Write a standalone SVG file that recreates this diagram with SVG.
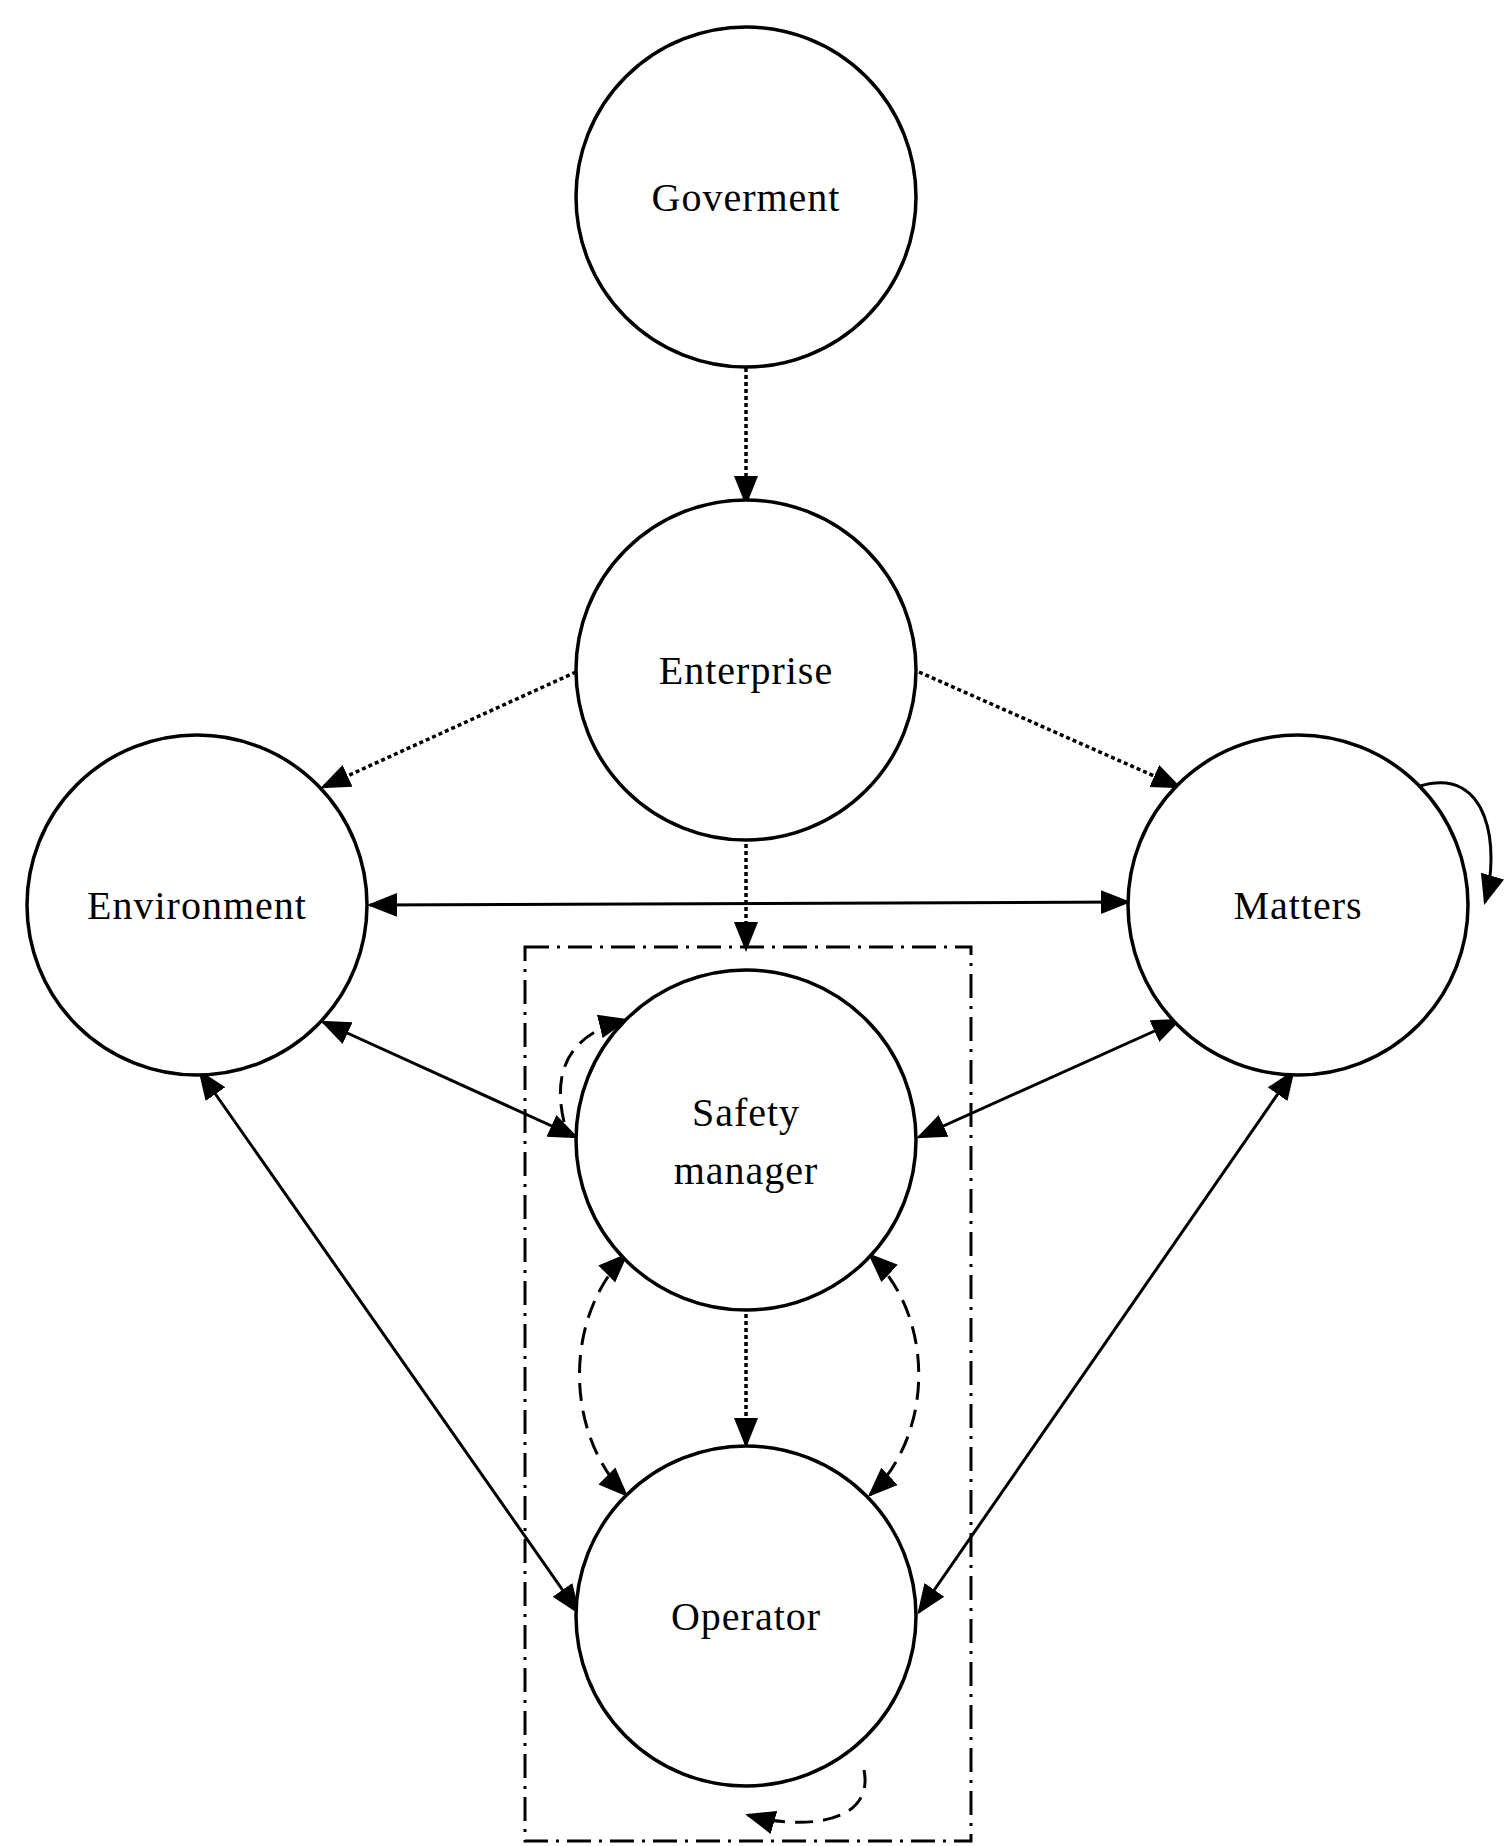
<svg xmlns="http://www.w3.org/2000/svg" width="1510" height="1846" viewBox="0 0 1510 1846">
<style>
.n{fill:#fff;stroke:#000;stroke-width:3.5}
.t{font-family:"Liberation Serif",serif;font-size:40px;text-anchor:middle;fill:#000;letter-spacing:1px}
.s{fill:none;stroke:#000;stroke-width:3}
.d{stroke-dasharray:4 3;stroke-width:3.5}
.ds{stroke-dasharray:18 10}
</style>
<defs>
<marker id="b" viewBox="0 0 10 10" refX="9" refY="5" markerWidth="30" markerHeight="30" markerUnits="userSpaceOnUse" orient="auto-start-reverse"><path d="M0,1 L10,5 L0,9 z" fill="#000"/></marker>
</defs>
<rect width="1510" height="1846" fill="#fff"/>
<rect x="525" y="947" width="446" height="894" fill="none" stroke="#000" stroke-width="3" stroke-dasharray="24 8 3 8"/>
<g id="connectors">
<line class="s d" x1="746" y1="368" x2="746" y2="503" marker-end="url(#b)"/>
<line class="s d" x1="576" y1="672" x2="323" y2="787" marker-end="url(#b)"/>
<line class="s d" x1="919" y1="672" x2="1179" y2="787" marker-end="url(#b)"/>
<line class="s d" x1="746" y1="837" x2="746" y2="949" marker-end="url(#b)"/>
<line class="s d" x1="746" y1="1307" x2="746" y2="1445" marker-end="url(#b)"/>
<line class="s" x1="370" y1="905" x2="1128" y2="902" marker-start="url(#b)" marker-end="url(#b)"/>
<line class="s" x1="323" y1="1022" x2="576" y2="1137" marker-start="url(#b)" marker-end="url(#b)"/>
<line class="s" x1="1179" y1="1020" x2="919" y2="1137" marker-start="url(#b)" marker-end="url(#b)"/>
<line class="s" x1="200" y1="1072" x2="578" y2="1612" marker-start="url(#b)" marker-end="url(#b)"/>
<line class="s" x1="1293" y1="1072" x2="919" y2="1612" marker-start="url(#b)" marker-end="url(#b)"/>
<path class="s ds" d="M564,1122 Q545,1040 626,1020" marker-end="url(#b)"/>
<path class="s ds" d="M626,1255 C564,1316 564,1433 626,1495" marker-start="url(#b)" marker-end="url(#b)"/>
<path class="s ds" d="M870,1255 C935,1316 935,1433 870,1495" marker-start="url(#b)" marker-end="url(#b)"/>
<path class="s ds" d="M864,1770 C875,1825 800,1830 748,1815" marker-end="url(#b)"/>
<path class="s" d="M1420,786 C1490,765 1500,850 1485,902" marker-end="url(#b)"/>
</g>
<g id="goverment"><circle class="n" cx="746" cy="197" r="170"/><text class="t" x="746" y="211">Goverment</text></g>
<g id="enterprise"><circle class="n" cx="746" cy="670" r="170"/><text class="t" x="746" y="684">Enterprise</text></g>
<g id="environment"><circle class="n" cx="197" cy="905" r="170"/><text class="t" x="197" y="919">Environment</text></g>
<g id="matters"><circle class="n" cx="1298" cy="905" r="170"/><text class="t" x="1298" y="919">Matters</text></g>
<g id="safety"><circle class="n" cx="746" cy="1140" r="170"/><text class="t" x="746" y="1126">Safety</text><text class="t" x="746" y="1184">manager</text></g>
<g id="operator"><circle class="n" cx="746" cy="1616" r="170"/><text class="t" x="746" y="1630">Operator</text></g>
</svg>
